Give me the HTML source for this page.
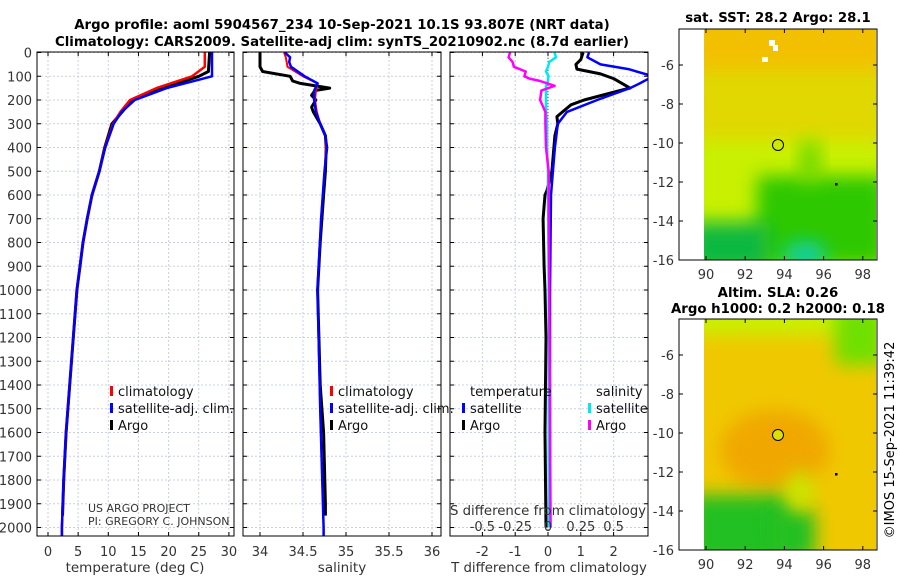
<!DOCTYPE html>
<html><head><meta charset="utf-8"><style>
html,body{margin:0;background:#fff;width:900px;height:580px;overflow:hidden}
svg{display:block;font-family:"DejaVu Sans","Liberation Sans",sans-serif}
</style></head><body>
<svg id="s" width="900" height="580" viewBox="0 0 900 580">
<defs>
<filter id="bl" x="-50%" y="-50%" width="200%" height="200%"><feGaussianBlur stdDeviation="9"/></filter>
<clipPath id="cm1"><rect x="704" y="29" width="172" height="231"/></clipPath>
<clipPath id="cm2"><rect x="704" y="319" width="172" height="231"/></clipPath>
<clipPath id="cp1"><rect x="37" y="52" width="197" height="484"/></clipPath>
<clipPath id="cp2"><rect x="243" y="52" width="198" height="484"/></clipPath>
<clipPath id="cp3"><rect x="450" y="52" width="198" height="484"/></clipPath>
</defs>
<g font-weight="bold" font-size="13.3" text-anchor="middle">
<text x="342" y="29">Argo profile: aoml 5904567_234 10-Sep-2021 10.1S 93.807E (NRT data)</text>
<text x="342" y="46">Climatology: CARS2009. Satellite-adj clim: synTS_20210902.nc (8.7d earlier)</text>
</g>
<g id="grid"></g>
<g id="marks"></g>
<g id="axes"></g>
<g>
<text x="778" y="22" text-anchor="middle" font-weight="bold" font-size="13.3">sat. SST: 28.2 Argo: 28.1</text>
<g clip-path="url(#cm1)">
<rect x="704" y="29" width="172" height="231" fill="#c8f000"/>
<rect x="690" y="10" width="200" height="80" fill="#f2c000" filter="url(#bl)"/>
<rect x="690" y="70" width="200" height="70" fill="#e0d800" filter="url(#bl)"/>
<rect x="757" y="176" width="130" height="90" fill="#2fc800" filter="url(#bl)"/>
<rect x="690" y="222" width="80" height="50" fill="#10b840" filter="url(#bl)"/>
<rect x="800" y="142" width="20" height="40" fill="#70d800" filter="url(#bl)"/>
<ellipse cx="805" cy="255" rx="22" ry="14" fill="#10d0a0" filter="url(#bl)"/>
<rect x="769" y="40" width="6" height="6" fill="#fff"/><rect x="773" y="45" width="5" height="6" fill="#fff"/><rect x="762" y="57" width="6" height="5" fill="#fff"/>
</g>
<circle cx="778" cy="145" r="5.5" fill="none" stroke="#000" stroke-width="1"/>
<rect x="835" y="183" width="2.5" height="2.5" fill="#000"/>
<rect x="679" y="29" width="198" height="231" fill="none" stroke="#000" stroke-width="1"/>
</g>
<g>
<text x="778" y="297" text-anchor="middle" font-weight="bold" font-size="13.3">Altim. SLA: 0.26</text>
<text x="778" y="313" text-anchor="middle" font-weight="bold" font-size="13.3">Argo h1000: 0.2 h2000: 0.18</text>
<g clip-path="url(#cm2)">
<rect x="704" y="319" width="172" height="231" fill="#f0c800"/>
<rect x="690" y="305" width="200" height="30" fill="#c8f000" filter="url(#bl)"/>
<rect x="835" y="305" width="50" height="60" fill="#70e000" filter="url(#bl)"/>
<ellipse cx="775" cy="450" rx="55" ry="40" fill="#f0a800" filter="url(#bl)"/>
<rect x="690" y="495" width="100" height="70" fill="#20c020" filter="url(#bl)"/>
<rect x="770" y="510" width="45" height="50" fill="#20c020" filter="url(#bl)"/>
<ellipse cx="800" cy="490" rx="14" ry="18" fill="#c8e800" filter="url(#bl)"/>
</g>
<circle cx="778" cy="435" r="5.5" fill="#e0e000" stroke="#000" stroke-width="1"/>
<rect x="835" y="473" width="2.5" height="2.5" fill="#000"/>
<rect x="679" y="319" width="198" height="231" fill="none" stroke="#000" stroke-width="1"/>
<text transform="translate(894,440) rotate(-90)" text-anchor="middle" font-size="13">©IMOS 15-Sep-2021 11:39:42</text>
</g>
<g id="mapaxes" font-size="13" fill="#333"></g>
</svg>
<script>
const NS="http://www.w3.org/2000/svg";
const depthT=[0,60,100,150,200,250,300,400,500,600,700,800,900,1000,1200,1400,1600,1800,2000,2050];
const tempClim=[26.0,26.0,23.9,18,13.6,12,10.8,9.45,8.5,7.3,6.5,5.8,5.3,4.8,4.2,3.6,3.0,2.6,2.3,2.3];
const tempSat=[27.2,27.2,27.2,19.7,14.4,12.2,10.9,9.5,8.5,7.3,6.5,5.8,5.3,4.8,4.2,3.6,3.0,2.6,2.3,2.3];
const depthArgoT=[0,80,100,150,200,300,400,500,600,700,800,900,1000,1200,1400,1600,1800,1950];
const tempArgo=[26.8,26.6,25,19,14,10.6,9.4,8.5,7.3,6.5,5.8,5.3,4.8,4.2,3.6,3.0,2.6,2.4];
const depthS=[0,20,40,60,100,130,160,200,250,300,350,400,500,700,1000,1500,2000,2050];
const salClim=[34.28,34.3,34.31,34.32,34.5,34.67,34.65,34.64,34.66,34.70,34.76,34.77,34.75,34.71,34.67,34.70,34.74,34.74];
const salSat=[34.29,34.35,34.34,34.36,34.52,34.67,34.63,34.63,34.65,34.70,34.76,34.78,34.75,34.71,34.67,34.70,34.74,34.74];
const depthArgoS=[0,60,80,100,120,130,150,160,180,200,230,250,300,350,400,500,600,800,1000,1400,1600,1900,1950];
const salArgo=[34.0,34.0,34.03,34.35,34.38,34.47,34.81,34.64,34.6,34.65,34.6,34.62,34.70,34.76,34.77,34.76,34.74,34.70,34.67,34.70,34.74,34.76,34.76];
const depthD=[0,30,50,70,90,110,150,160,200,220,270,300,350,400,500,580,600,700,900,1000,1200,1600,2000];
const dTArgo=[1.07,1.0,0.85,0.88,1.6,2.0,2.5,2.2,1.1,0.7,0.27,0.3,0.21,0.18,0.12,-0.03,-0.09,-0.15,-0.12,-0.09,-0.06,-0.09,-0.06];
const depthD2=[0,20,50,70,100,130,150,200,250,300,400,500,600,1000,2000];
const dTSat=[1.25,1.2,1.6,2.45,3.2,2.8,2.5,1.5,0.58,0.3,0.21,0.15,0.09,0.06,0.06];
const depthDS=[0,20,40,60,80,100,110,120,140,160,200,250,300,400,500,600,1000,2000];
const dSSat=[0.05,0.06,0.01,0,-0.015,0.005,0,0,-0.015,-0.015,-0.015,-0.015,-0.008,-0.008,0,0,0.005,0.005];
const dSArgo=[-0.29,-0.3,-0.27,-0.26,-0.17,-0.18,-0.14,-0.06,0.05,-0.05,-0.06,-0.02,-0.02,-0.015,0.005,0.005,0.01,0.02];
const depthTicks=[0,100,200,300,400,500,600,700,800,900,1000,1100,1200,1300,1400,1500,1600,1700,1800,1900,2000];
const tempTicks=[0,5,10,15,20,25,30];
const salTicks=[34,34.5,35,35.5,36];
const salTickLabels=["34","34.5","35","35.5","36"];
const dTTicks=[-2,-1,0,1,2];
const dSTicks=[-0.5,-0.25,0,0.25,0.5];
const dSTickLabels=["-0.5","-0.25","0","0.25","0.5"];
const latTicks=[-6,-8,-10,-12,-14,-16];
const lonTicks=[90,92,94,96,98];

const yD=d=>52.5+d*0.2375;
const xT=t=>48+t*6.03;
const xS=s=>260+(s-34)*86;
const xDT=t=>548+t*32.8;
const xDS=s=>548+s*131.2;
const G=document.getElementById('grid'),M=document.getElementById('marks'),A=document.getElementById('axes'),MA=document.getElementById('mapaxes');
function el(tag,at,par){const e=document.createElementNS(NS,tag);for(const k in at)e.setAttribute(k,at[k]);par.appendChild(e);return e;}
function txt(x,y,s,par,anchor,size){const t=el('text',{x:x,y:y,'text-anchor':anchor||'middle','font-size':size||13,fill:'#333'},par);t.textContent=s;return t;}
const panels=[{x0:37,x1:234,cp:'cp1'},{x0:243,x1:441,cp:'cp2'},{x0:450,x1:648,cp:'cp3'}];
const gx=[tempTicks.map(xT),salTicks.map(xS),dTTicks.map(xDT)];
panels.forEach((p,i)=>{
  depthTicks.forEach(d=>{el('line',{x1:p.x0,x2:p.x1,y1:yD(d),y2:yD(d),stroke:'#c8cfe8','stroke-dasharray':'2,2','stroke-width':1},G);});
  gx[i].forEach(x=>{el('line',{x1:x,x2:x,y1:52,y2:536,stroke:'#c8cfe8','stroke-dasharray':'2,2','stroke-width':1},G);});
});
el('line',{x1:xDT(0),x2:xDT(0),y1:52,y2:536,stroke:'#555','stroke-dasharray':'1,2','stroke-width':1},G);
function line(xs,ds,fx,color,w,name,cp){
  const pts=xs.map((v,i)=>fx(v).toFixed(1)+','+yD(ds[i]).toFixed(1)).join(' ');
  const pl=el('polyline',{points:pts,fill:'none',stroke:color,'stroke-width':w,'stroke-linejoin':'round','clip-path':'url(#'+cp+')'},M);
  
  
}
line(tempArgo,depthArgoT,xT,'#000',3,'temp-argo-line','cp1');
line(tempClim,depthT,xT,'#f00',2.5,'temp-climatology-line','cp1');
line(tempSat,depthT,xT,'#00f',2.5,'temp-satellite-line','cp1');
line(salArgo,depthArgoS,xS,'#000',3,'salinity-argo-line','cp2');
line(salClim,depthS,xS,'#f00',2,'salinity-climatology-line','cp2');
line(salSat,depthS,xS,'#00f',2.5,'salinity-satellite-line','cp2');
line(dTArgo,depthD,xDT,'#000',3,'tdiff-argo-line','cp3');
line(dTSat,depthD2,xDT,'#00f',2.5,'tdiff-satellite-line','cp3');
line(dSSat,depthDS,xDS,'#00e8f0',2.5,'sdiff-satellite-line','cp3');
line(dSArgo,depthDS,xDS,'#f0f',2.5,'sdiff-argo-line','cp3');
panels.forEach((p,i)=>{
  const r=el('rect',{x:p.x0,y:52,width:p.x1-p.x0,height:484,fill:'none',stroke:'#000','stroke-width':1},A);
  
  
  depthTicks.forEach(d=>{el('line',{x1:p.x0,x2:p.x0+4,y1:yD(d),y2:yD(d),stroke:'#000'},A);el('line',{x1:p.x1,x2:p.x1-4,y1:yD(d),y2:yD(d),stroke:'#000'},A);});
  gx[i].forEach(x=>{el('line',{x1:x,x2:x,y1:536,y2:532,stroke:'#000'},A);el('line',{x1:x,x2:x,y1:52,y2:56,stroke:'#000'},A);});
});
depthTicks.forEach(d=>{const t=txt(32,yD(d)+5,String(d),A,'end');});
tempTicks.forEach(v=>{const t=txt(xT(v),556,String(v),A);});
salTicks.forEach((v,i)=>{const t=txt(xS(v),556,salTickLabels[i],A);});
dTTicks.forEach(v=>{const t=txt(xDT(v),556,String(v),A);});
dSTicks.forEach((v,i)=>{const t=txt(xDS(v),531,dSTickLabels[i],A);});
let t;
t=txt(135,572,'temperature (deg C)',A,'middle',13.5);
t=txt(342,572,'salinity',A,'middle',13.5);
t=txt(549,572,'T difference from climatology',A,'middle',13.3);
t=txt(548,515,'S difference from climatology',A,'middle',13.3);
t=txt(88,512,'US ARGO PROJECT',A,'start',11);
t=txt(88,525,'PI: GREGORY C. JOHNSON',A,'start',11);
function leg(x,y,color,label,name){
  el('rect',{x:x,y:y-10,width:3,height:10,fill:color},A);
  const tt=txt(x+8,y,label,A,'start',13);tt.setAttribute('fill','#111');
  
  
}
[[110,'legend-temp'],[330,'legend-salinity']].forEach(([x,n])=>{
  leg(x,396,'#f00','climatology',n+'-climatology');
  leg(x,413,'#00f','satellite-adj. clim.',n+'-satellite');
  leg(x,430,'#000','Argo',n+'-argo');
});
t=txt(470,396,'temperature',A,'start',13);t.setAttribute('fill','#111');
t=txt(596,396,'salinity',A,'start',13);t.setAttribute('fill','#111');
leg(462,413,'#00f','satellite','legend-tdiff-satellite');
leg(462,430,'#000','Argo','legend-tdiff-argo');
leg(588,413,'#00e8f0','satellite','legend-sdiff-satellite');
leg(588,430,'#f0f','Argo','legend-sdiff-argo');
const lon=v=>706+(v-90)*19.6;
[[29,260],[319,550]].forEach(([y0,y1],k)=>{
  const lat=v=>y1-(v+16)*19.5;
  latTicks.forEach(v=>{const tt=txt(674,lat(v)+5,String(v),MA,'end');
    el('line',{x1:679,x2:683,y1:lat(v),y2:lat(v),stroke:'#000'},MA);el('line',{x1:877,x2:873,y1:lat(v),y2:lat(v),stroke:'#000'},MA);});
  lonTicks.forEach(v=>{const tt=txt(lon(v),y1+19,String(v),MA);
    el('line',{x1:lon(v),x2:lon(v),y1:y1,y2:y1-4,stroke:'#000'},MA);el('line',{x1:lon(v),x2:lon(v),y1:y0,y2:y0+4,stroke:'#000'},MA);});
});
</script>
</body></html>
